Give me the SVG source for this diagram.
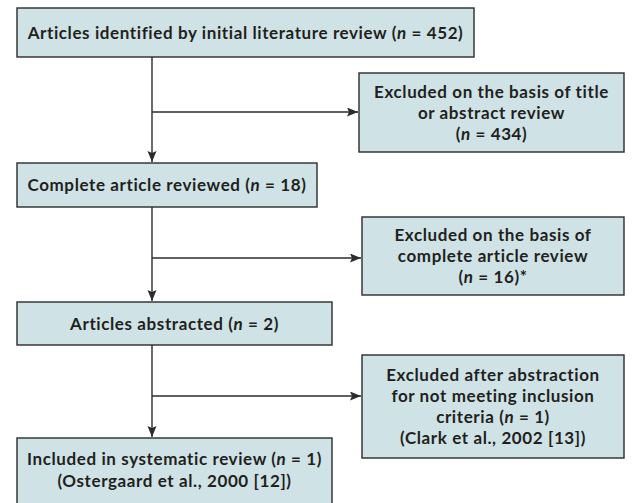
<svg xmlns="http://www.w3.org/2000/svg" width="632" height="503" viewBox="0 0 632 503">
<style>
.box{fill:#cfe3e6;stroke:#2b2b2b;stroke-width:1.4}
.t{font-family:Lato,"Open Sans","Liberation Sans",sans-serif;font-weight:700;font-size:17px;letter-spacing:0.6px;fill:#231f20;text-anchor:middle}
.i{font-style:italic}
.c{fill:none;stroke:#2b2b2b;stroke-width:1.4}
</style>
<defs>
<marker id="ah" markerUnits="userSpaceOnUse" markerWidth="12" markerHeight="10" refX="11" refY="4.5" orient="auto">
<path d="M0,0 L11,4.5 L0,9 L2,4.5 Z" fill="#2b2b2b"/>
</marker>
</defs>
<g id="connectors">
<line class="c" x1="152" y1="57" x2="152" y2="162" marker-end="url(#ah)"/>
<line class="c" x1="152" y1="112" x2="358" y2="112" marker-end="url(#ah)"/>
<line class="c" x1="152" y1="207" x2="152" y2="301" marker-end="url(#ah)"/>
<line class="c" x1="152" y1="258" x2="361" y2="258" marker-end="url(#ah)"/>
<line class="c" x1="152" y1="345" x2="152" y2="437" marker-end="url(#ah)"/>
<line class="c" x1="152" y1="396" x2="361" y2="396" marker-end="url(#ah)"/>
</g>
<g id="n1">
<rect class="box" x="17" y="8" width="457" height="49"/>
<text class="t" x="245.5" y="38.5">Articles identified by initial literature review (<tspan class="i">n</tspan> = 452)</text>
</g>
<g id="n2">
<rect class="box" x="359" y="73" width="265" height="79"/>
<text class="t" x="491.5" y="98">Excluded on the basis of title</text>
<text class="t" x="491.5" y="119">or abstract review</text>
<text class="t" x="491.5" y="140">(<tspan class="i">n</tspan> = 434)</text>
</g>
<g id="n3">
<rect class="box" x="17" y="163" width="300" height="44"/>
<text class="t" x="167" y="191">Complete article reviewed (<tspan class="i">n</tspan> = 18)</text>
</g>
<g id="n4">
<rect class="box" x="362" y="217" width="262" height="78"/>
<text class="t" x="493" y="241">Excluded on the basis of</text>
<text class="t" x="493" y="262">complete article review</text>
<text class="t" x="493" y="283">(<tspan class="i">n</tspan> = 16)*</text>
</g>
<g id="n5">
<rect class="box" x="17" y="302" width="315" height="43"/>
<text class="t" x="174.5" y="329.5">Articles abstracted (<tspan class="i">n</tspan> = 2)</text>
</g>
<g id="n6">
<rect class="box" x="362" y="355" width="262" height="103"/>
<text class="t" x="493" y="381">Excluded after abstraction</text>
<text class="t" x="493" y="402">for not meeting inclusion</text>
<text class="t" x="493" y="423">criteria (<tspan class="i">n</tspan> = 1)</text>
<text class="t" x="493" y="444">(Clark et al., 2002 [13])</text>
</g>
<g id="n7">
<rect class="box" x="17" y="438" width="315" height="70"/>
<text class="t" x="174.5" y="465">Included in systematic review (<tspan class="i">n</tspan> = 1)</text>
<text class="t" x="174.5" y="487">(Ostergaard et al., 2000 [12])</text>
</g>
</svg>
